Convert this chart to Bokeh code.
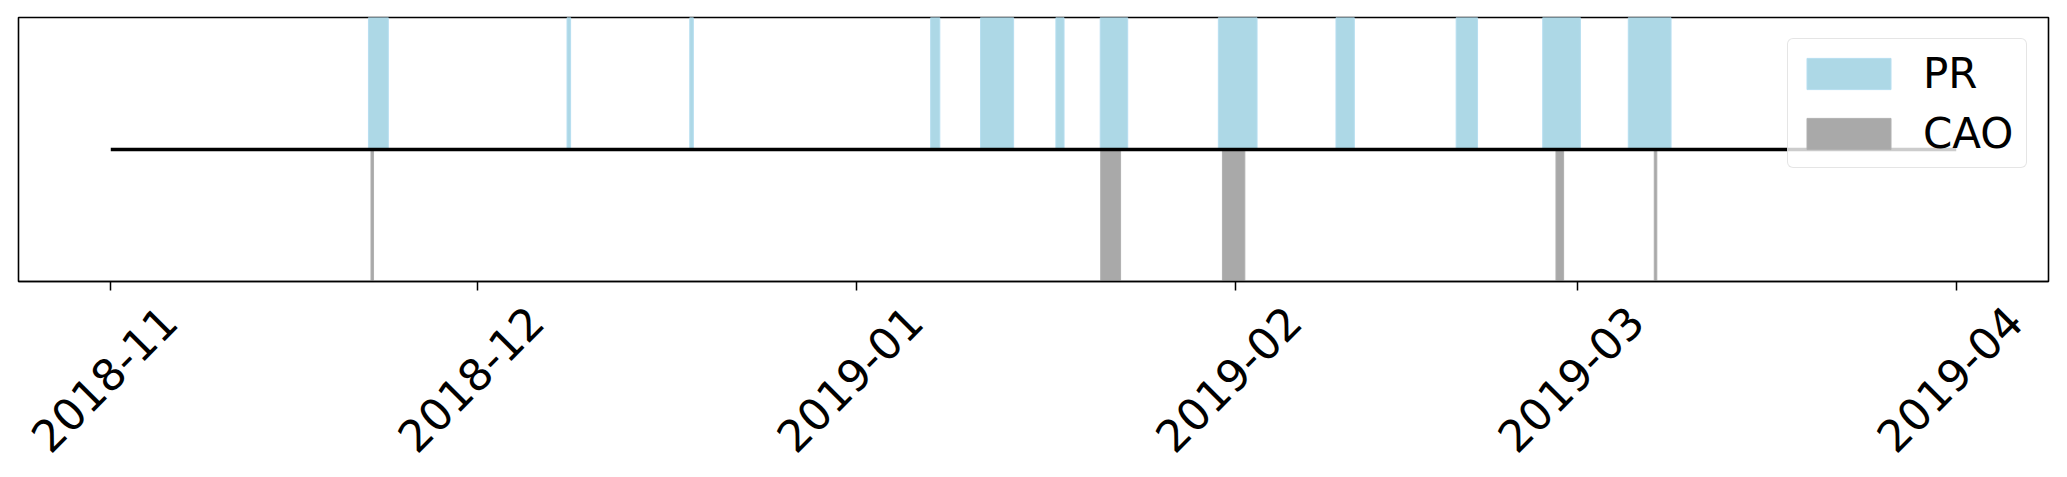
import math
import pandas as pd
from bokeh.plotting import figure
from bokeh.layouts import column
from bokeh.models import Range1d, FixedTicker, Legend, LegendItem
from bokeh.core.properties import value
from bokeh.embed import file_html
from bokeh.resources import INLINE

# ---- data ----
pr_start = ["2018-11-22 02:00", "2018-12-08 08:00", "2018-12-18 09:00", "2019-01-07 02:00",
            "2019-01-11 04:00", "2019-01-17 08:00", "2019-01-20 23:00", "2019-01-30 15:00",
            "2019-02-09 06:00", "2019-02-19 02:00", "2019-02-26 04:00", "2019-03-05 04:00"]
pr_end = ["2018-11-23 17:00", "2018-12-08 15:00", "2018-12-18 16:00", "2019-01-07 20:00",
          "2019-01-13 21:00", "2019-01-18 00:00", "2019-01-23 05:00", "2019-02-02 19:00",
          "2019-02-10 18:00", "2019-02-20 20:00", "2019-03-01 06:00", "2019-03-08 16:00"]
cao_start = ["2018-11-22 07:00", "2019-01-21 00:00", "2019-01-30 23:00", "2019-02-27 06:00",
             "2019-03-07 07:00"]
cao_end = ["2018-11-22 12:00", "2019-01-22 15:00", "2019-02-01 19:00", "2019-02-27 21:00",
           "2019-03-07 12:00"]
line_start = "2018-11-01"
line_end = "2019-04-01"
tick_labels = ["2018-11", "2018-12", "2019-01", "2019-02", "2019-03", "2019-04"]

# ---- conversions ----
prs = pd.to_datetime(pr_start)
pre = pd.to_datetime(pr_end)
cs = pd.to_datetime(cao_start)
ce = pd.to_datetime(cao_end)
ls = pd.Timestamp(line_start)
le = pd.Timestamp(line_end)
pad = (le - ls) * 0.05
ticks_ms = [pd.Timestamp(t + "-01").value / 1e6 for t in tick_labels]
xr = Range1d(ls - pad, le + pad)

FRAME_W, FRAME_H = 2030, 264
TOP, LEFT, RIGHT, BOTTOM = 17, 18, 19, 10

p = figure(frame_width=FRAME_W, frame_height=FRAME_H, x_axis_type="datetime",
           x_range=xr, y_range=Range1d(-1, 1), y_axis_location=None,
           output_backend="svg", toolbar_location=None,
           min_border_left=LEFT, min_border_right=RIGHT, min_border_top=TOP,
           min_border_bottom=BOTTOM)

p.xgrid.visible = False
p.ygrid.visible = False
p.outline_line_color = "black"
p.outline_line_width = 1.6
p.background_fill_color = "white"

r_pr = p.quad(left=prs, right=pre, bottom=0, top=1, fill_color="#add8e6",
              line_color="#b6def0", line_width=1)
r_cao = p.quad(left=cs, right=ce, bottom=-1, top=0, fill_color="#a9a9a9",
               line_color="#b0b0b0", line_width=1)
p.line(x=[ls, le], y=[0, 0], line_color="black", line_width=3.5)

ax = p.xaxis[0]
ax.ticker = FixedTicker(ticks=ticks_ms)
ax.major_label_overrides = {t: "" for t in ticks_ms}
ax.major_label_text_font_size = "0px"
ax.major_label_standoff = 0
ax.major_tick_in = 0
ax.major_tick_out = 9
ax.major_tick_line_width = 1.5
ax.minor_tick_out = 0
ax.minor_tick_in = 0
ax.axis_line_color = "black"
ax.axis_line_width = 1.6

legend = Legend(items=[LegendItem(label="PR", renderers=[r_pr]),
                       LegendItem(label="CAO", renderers=[r_cao])],
                location="top_right")
legend.label_text_font = "DejaVu Sans"
legend.label_text_font_size = "42px"
legend.label_text_color = "black"
legend.glyph_width = 105
legend.glyph_height = 39
legend.label_standoff = 22
legend.label_width = 95
legend.label_height = 52
legend.spacing = 8
legend.padding = 8
legend.margin = 21
legend.border_line_color = "#cccccc"
legend.border_line_width = 1.5
legend.border_radius = 6
legend.background_fill_alpha = 0.8
p.add_layout(legend)

# ---- strip below the plot holding the rotated tick labels ----
H2 = 180
p2 = figure(frame_width=FRAME_W, frame_height=H2, x_axis_type="datetime",
            x_range=xr, y_range=Range1d(0, H2),
            x_axis_location=None, y_axis_location=None,
            output_backend="svg", toolbar_location=None,
            min_border_left=LEFT, min_border_right=RIGHT, min_border_top=0,
            min_border_bottom=0)
p2.xgrid.visible = False
p2.ygrid.visible = False
p2.outline_line_color = None
centre_below_axis = 97  # px from frame bottom to label centre
p2.text(x=ticks_ms, y=[H2 - (centre_below_axis - BOTTOM)] * len(ticks_ms), text=tick_labels,
        angle=math.pi / 4, text_align="center", text_baseline="middle",
        x_offset=-7, text_font=value("DejaVu Sans"), text_font_size="44px",
        text_color="black")

layout = column(p, p2, spacing=0)
open("out.html", "w").write(file_html(layout, INLINE))
